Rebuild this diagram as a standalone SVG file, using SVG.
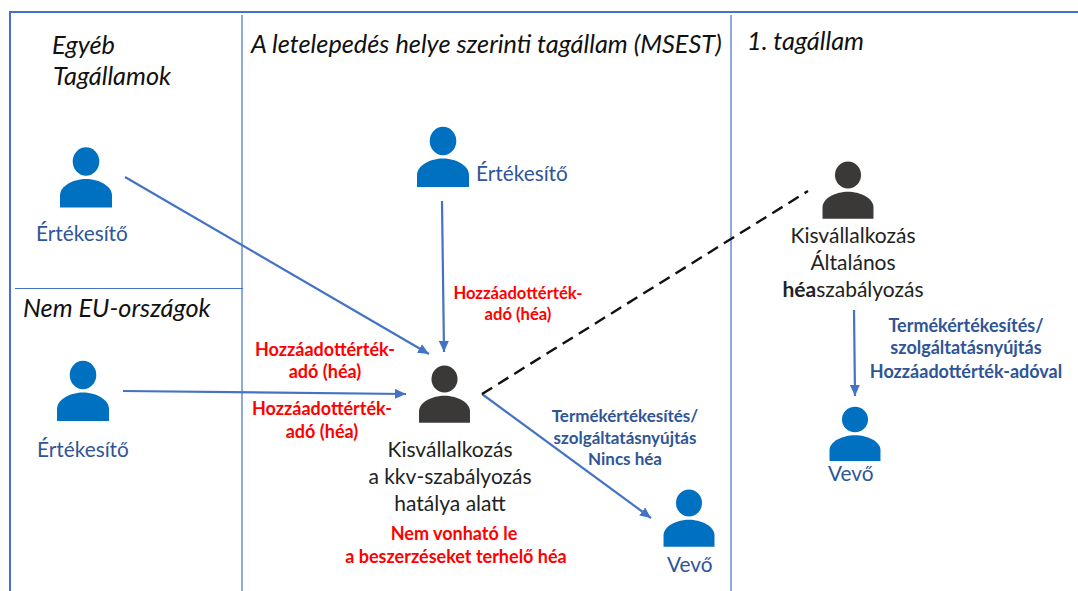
<svg xmlns="http://www.w3.org/2000/svg" width="1078" height="591" viewBox="0 0 1078 591">
<style>
text{font-family:"Lato","Carlito","Liberation Sans",sans-serif}
.h{font-size:25.300px;font-style:italic;fill:#111}
.b{font-size:20.800px;fill:#2f5597}
.k{font-size:21px;fill:#222;text-anchor:middle}
.r{font-size:18px;font-weight:700;fill:#f00;text-anchor:middle}
.r2{font-size:16.600px}
.t{font-size:17px;font-weight:700;fill:#2f5597;text-anchor:middle}
.t2{font-size:18px}
.frame{stroke:#4472c4;stroke-width:1.2;fill:none}
.c{stroke:#4472c4;stroke-width:2.2;fill:none;marker-end:url(#a)}
.d{stroke:#111;stroke-width:2.400;fill:none;stroke-dasharray:12 7}
.blue{fill:#0070c0}.dark{fill:#3b3838}
</style>
<defs>
<marker id="a" markerUnits="userSpaceOnUse" markerWidth="12" markerHeight="10" refX="11" refY="5" orient="auto"><path d="M0 0L11 5L0 10Z" fill="#4472c4"/></marker>
<symbol id="p" overflow="visible"><ellipse cx="0" cy="0" rx="13.300" ry="14.300"/><path d="M-26 46V34C-26 24-12 17.500 0 17.500S26 24 26 34V46Z"/></symbol>
</defs>
<g id="frame">
<path class="frame" d="M10 591V12H1078" style="stroke-width:2"/>
<path class="frame" d="M242 15V591M731 15V591M15 288.500H243"/>
</g>
<g id="connectors">
<path class="c" d="M125 177L429 354"/>
<path class="c" d="M442 201L444 352"/>
<path class="c" d="M123 391L406 394"/>
<path class="c" d="M482 394L651 518"/>
<path class="d" d="M482 394L808 191"/>
<path class="c" d="M854 310L855 396"/>
</g>
<g id="labels">
<text class="h" x="52" y="54">Egyéb</text>
<text class="h" x="53" y="85">Tagállamok</text>
<text class="h" x="251" y="53">A letelepedés helye szerinti tagállam (MSEST)</text>
<text class="h" x="747" y="50">1. tagállam</text>
<text class="h" x="23" y="317">Nem EU-országok</text>
<text class="r" x="325" y="356">Hozzáadottérték-</text><text class="r" x="325" y="378">adó (héa)</text>
<text class="r" x="322" y="415">Hozzáadottérték-</text><text class="r" x="322" y="438">adó (héa)</text>
<text class="r r2" x="518" y="299">Hozzáadottérték-</text><text class="r r2" x="518" y="320">adó (héa)</text>
<text class="t" x="625" y="422">Termékértékesítés/</text><text class="t" x="625" y="444">szolgáltatásnyújtás</text><text class="t" x="625" y="465">Nincs héa</text>
<text class="t t2" x="966" y="332">Termékértékesítés/</text><text class="t t2" x="966" y="354">szolgáltatásnyújtás</text><text class="t t2" x="966" y="378">Hozzáadottérték-adóval</text>
</g>
<g id="seller-other"><use href="#p" x="86" y="161.500" class="blue"/><text class="b" x="36" y="241">Értékesítő</text></g>
<g id="seller-msest"><use href="#p" x="443" y="141" class="blue"/><text class="b" x="476" y="181">Értékesítő</text></g>
<g id="seller-noneu"><use href="#p" x="83" y="375" class="blue"/><text class="b" x="37" y="457">Értékesítő</text></g>
<g id="sme-center"><use href="#p" transform="translate(444.500 379) scale(.98 .95)" class="dark"/>
<text class="k" x="450" y="457">Kisvállalkozás</text><text class="k" x="450" y="484">a kkv-szabályozás</text><text class="k" x="450" y="511">hatálya alatt</text>
<text class="r" x="454" y="540">Nem vonható le</text><text class="r" x="456" y="563">a beszerzéseket terhelő héa</text></g>
<g id="buyer-center"><use href="#p" transform="translate(689 503) scale(.98 .95)" class="blue"/><text class="b" x="667" y="572">Vevő</text></g>
<g id="sme-right"><use href="#p" transform="translate(848 175) scale(.98 .95)" class="dark"/>
<text class="k" x="853" y="243">Kisvállalkozás</text><text class="k" x="853" y="270">Általános</text><text class="k" x="853" y="297"><tspan font-weight="700">héa</tspan>szabályozás</text></g>
<g id="buyer-right"><use href="#p" transform="translate(855 419.500) scale(.98 .9)" class="blue"/><text class="b" x="828" y="481">Vevő</text></g>
</svg>
